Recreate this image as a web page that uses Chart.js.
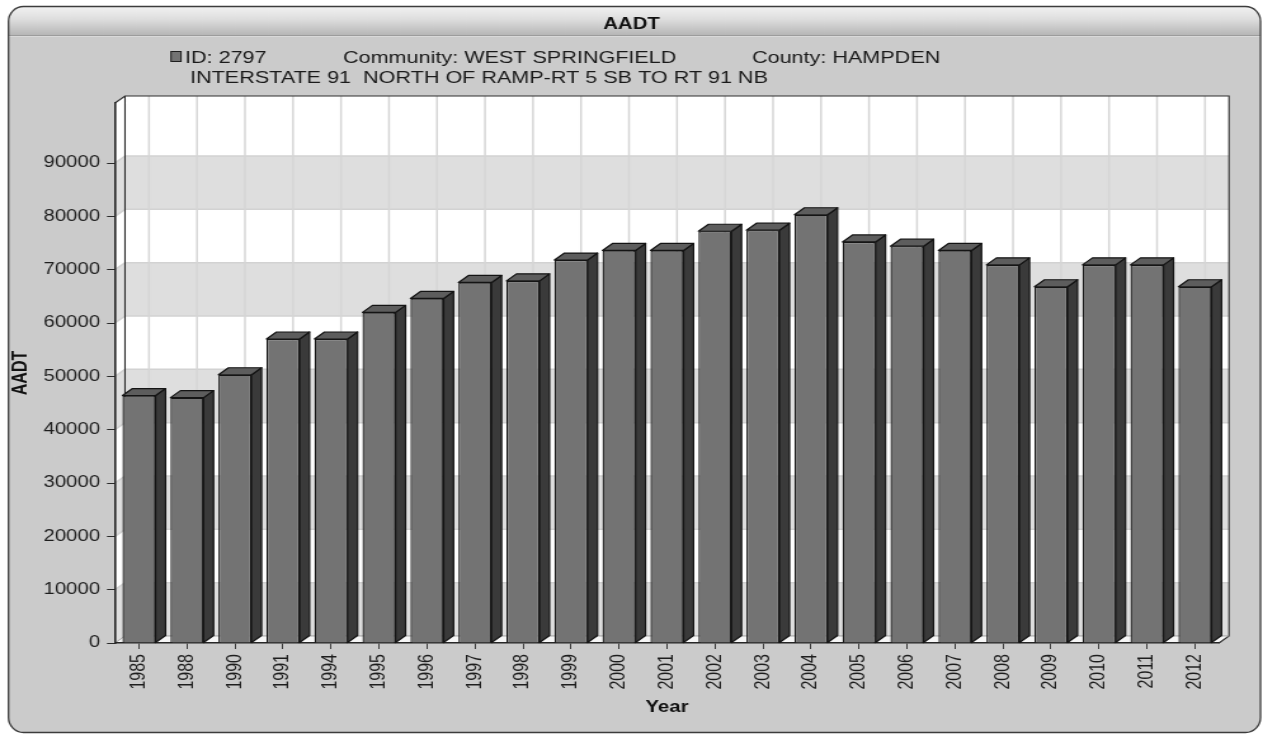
<!DOCTYPE html>
<html>
<head>
<meta charset="utf-8">
<script src="https://cdn.jsdelivr.net/npm/chart.js@4.4.1/dist/chart.umd.min.js"></script>
<style>
  html, body { margin: 0; padding: 0; background: #ffffff; overflow: hidden; }
</style>
</head>
<body>
<canvas id="aadtChart" width="995" height="734" style="width:1263px;height:734px;display:block"></canvas>
<script>
// ---- data ----
const years = ['1985', '1988', '1990', '1991', '1994', '1995', '1996', '1997', '1998', '1999', '2000', '2001',
               '2002', '2003', '2004', '2005', '2006', '2007', '2008', '2009', '2010', '2011', '2012'];
const aadtValues = [46400, 46000, 50300, 57000, 57000, 62000, 64600, 67600, 67900, 71800, 73600, 73600,
                    77200, 77400, 80300, 75200, 74400, 73600, 70900, 66800, 70900, 70900, 66800];
const yTickValues = [0, 10000, 20000, 30000, 40000, 50000, 60000, 70000, 80000, 90000];
const chartTitle = 'AADT';
const legendLine1 = ['ID: 2797', 'Community: WEST SPRINGFIELD', 'County: HAMPDEN'];
const legendLine2 = 'INTERSTATE 91  NORTH OF RAMP-RT 5 SB TO RT 91 NB';
const xAxisTitle = 'Year';
const yAxisTitle = 'AADT';

// ---- layout ----
// The canvas is drawn 995 px wide and shown 1263 px wide, so x positions
// below are given in shown pixels and divided by SX.
const SX = 1263 / 995;
const px = v => v / SX;
const FONT = "'Liberation Sans', Arial, sans-serif";
const DX = px(10);   // depth of the 3D box, horizontal
const DY = 7;        // depth of the 3D box, vertical

function panelPath(ctx, x0, y0, x1, y1, rx, ry) {
  ctx.beginPath();
  ctx.moveTo(x0 + rx, y0);
  ctx.lineTo(x1 - rx, y0);
  ctx.ellipse(x1 - rx, y0 + ry, rx, ry, 0, -Math.PI / 2, 0);
  ctx.lineTo(x1, y1 - ry);
  ctx.ellipse(x1 - rx, y1 - ry, rx, ry, 0, 0, Math.PI / 2);
  ctx.lineTo(x0 + rx, y1);
  ctx.ellipse(x0 + rx, y1 - ry, rx, ry, 0, Math.PI / 2, Math.PI);
  ctx.lineTo(x0, y0 + ry);
  ctx.ellipse(x0 + rx, y0 + ry, rx, ry, 0, Math.PI, Math.PI * 1.5);
  ctx.closePath();
}

function poly(ctx, pts) {
  ctx.beginPath();
  ctx.moveTo(pts[0][0], pts[0][1]);
  for (let i = 1; i < pts.length; i++) ctx.lineTo(pts[i][0], pts[i][1]);
  ctx.closePath();
}

// Panel, title bar, legend, and the back wall / side wall / floor of the box
const framePlugin = {
  id: 'frame',
  beforeDraw(chart) {
    const ctx = chart.ctx;
    const W = chart.width, H = chart.height;
    ctx.save();
    ctx.fillStyle = '#ffffff';
    ctx.fillRect(0, 0, W, H);

    const x0 = px(8.5), x1 = px(1260.5), y0 = 6.5, y1 = 732.5;
    panelPath(ctx, x0, y0, x1, y1, px(15), 15);
    ctx.fillStyle = '#cbcbcb';
    ctx.fill();

    // title bar
    ctx.save();
    panelPath(ctx, x0, y0, x1, y1, px(15), 15);
    ctx.clip();
    const g = ctx.createLinearGradient(0, 6, 0, 35);
    g.addColorStop(0, '#f3f3f3');
    g.addColorStop(0.45, '#dedede');
    g.addColorStop(1, '#b6b6b6');
    ctx.fillStyle = g;
    ctx.fillRect(0, 6, W, 29);
    ctx.fillStyle = '#9c9c9c';
    ctx.fillRect(0, 35, W, 1);
    ctx.fillStyle = '#d9d9d9';
    ctx.fillRect(0, 36, W, 1);
    ctx.restore();

    panelPath(ctx, x0, y0, x1, y1, px(15), 15);
    ctx.strokeStyle = '#3c3c3c';
    ctx.lineWidth = 1.3;
    ctx.stroke();

    ctx.fillStyle = '#111111';
    ctx.font = 'bold 16px ' + FONT;
    ctx.textAlign = 'center';
    ctx.textBaseline = 'alphabetic';
    ctx.fillText(chartTitle, W / 2, 29);

    // legend
    ctx.fillStyle = '#737373';
    ctx.fillRect(px(171), 51.5, px(10), 10);
    ctx.strokeStyle = '#1e1e1e';
    ctx.lineWidth = 1;
    ctx.strokeRect(px(171), 51.5, px(10), 10);
    ctx.fillStyle = '#1a1a1a';
    ctx.font = '17px ' + FONT;
    ctx.textAlign = 'left';
    const line1X = [185, 343, 752];
    legendLine1.forEach((t, i) => ctx.fillText(t, px(line1X[i]), 63));
    ctx.fillText(legendLine2, px(190), 83);

    // 3D box behind the bars
    const {left: L, right: R, top: T, bottom: B} = chart.chartArea;
    const ys = chart.scales.y, xs = chart.scales.x;
    const bl = L + DX, br = R + DX, bt = T - DY, bb = B - DY;

    ctx.fillStyle = '#ffffff';
    ctx.fillRect(bl, bt, br - bl, bb - bt);
    poly(ctx, [[L, T], [bl, bt], [bl, bb], [L, B]]);
    ctx.fill();

    ctx.fillStyle = '#dedede';
    for (let i = 0; i + 1 < yTickValues.length; i += 2) {
      const ya = ys.getPixelForValue(yTickValues[i]);
      const yb = ys.getPixelForValue(yTickValues[i + 1]);
      ctx.fillRect(bl, yb - DY, br - bl, ya - yb);
      poly(ctx, [[L, ya], [bl, ya - DY], [bl, yb - DY], [L, yb]]);
      ctx.fill();
    }

    ctx.strokeStyle = '#d2d2d2';
    ctx.lineWidth = 1.5;
    yTickValues.forEach(v => {
      const y = ys.getPixelForValue(v);
      ctx.beginPath();
      ctx.moveTo(L, y);
      ctx.lineTo(bl, y - DY);
      ctx.lineTo(br, y - DY);
      ctx.stroke();
    });
    ctx.strokeStyle = '#d6d6d6';
    ctx.lineWidth = 1.5;
    years.forEach((_, i) => {
      const x = xs.getPixelForTick(i) + DX;
      ctx.beginPath();
      ctx.moveTo(x, bt);
      ctx.lineTo(x, bb);
      ctx.stroke();
    });

    // floor
    poly(ctx, [[L, B], [bl, bb], [br, bb], [R, B]]);
    ctx.fillStyle = '#f6f6f6';
    ctx.fill();

    // box outline
    ctx.strokeStyle = '#2e2e2e';
    ctx.lineWidth = 1.1;
    ctx.beginPath();
    ctx.moveTo(L, T); ctx.lineTo(bl, bt); ctx.lineTo(br, bt); ctx.lineTo(br, bb); ctx.lineTo(R, B);
    ctx.moveTo(bl, bt); ctx.lineTo(bl, bb);
    ctx.stroke();
    ctx.strokeStyle = '#9a9a9a';
    ctx.lineWidth = 0.8;
    ctx.beginPath();
    ctx.moveTo(bl, bb); ctx.lineTo(br, bb);
    ctx.moveTo(L, B); ctx.lineTo(bl, bb);
    ctx.stroke();
    ctx.restore();
  }
};

// Top and side faces of each bar, built from the bar elements' own geometry
const barDepthPlugin = {
  id: 'barDepth',
  afterDatasetsDraw(chart) {
    const ctx = chart.ctx;
    const meta = chart.getDatasetMeta(0);
    ctx.save();
    ctx.lineJoin = 'round';
    meta.data.forEach(bar => {
      const {x, y, base, width} = bar.getProps(['x', 'y', 'base', 'width'], true);
      const l = x - width / 2, r = x + width / 2;
      // side face
      poly(ctx, [[r, y], [r + DX, y - DY], [r + DX, base - DY], [r, base]]);
      ctx.fillStyle = '#3a3a3a';
      ctx.fill();
      ctx.strokeStyle = '#141414';
      ctx.lineWidth = 1.2;
      ctx.stroke();
      // top face
      poly(ctx, [[l, y], [l + DX, y - DY], [r + DX, y - DY], [r, y]]);
      ctx.fillStyle = '#5d5d5d';
      ctx.fill();
      ctx.stroke();
    });
    ctx.restore();
  }
};

new Chart(document.getElementById('aadtChart'), {
  type: 'bar',
  data: {
    labels: years,
    datasets: [{
      label: legendLine1.join('  '),
      data: aadtValues,
      backgroundColor: '#737373',
      borderColor: '#161616',
      borderWidth: 1.3,
      barPercentage: 0.69,
      categoryPercentage: 1.0
    }]
  },
  options: {
    responsive: false,
    animation: false,
    devicePixelRatio: 1,
    layout: { padding: { left: 6.9, right: 995 - px(1219), top: 103, bottom: 16.4 } },
    plugins: {
      legend: { display: false },
      tooltip: { enabled: false },
      title: { display: false }
    },
    scales: {
      x: {
        offset: true,
        afterFit: s => { s.height = 74.6; },
        grid: { drawOnChartArea: false, drawTicks: true, tickLength: 6, color: '#2a2a2a', lineWidth: 0.9, offset: false },
        border: { display: true, color: '#262626', width: 1.6 },
        ticks: {
          autoSkip: false, minRotation: 90, maxRotation: 90, padding: 5,
          color: '#1e1e1e', font: { family: FONT, size: 16 }
        },
        title: {
          display: true, text: xAxisTitle, color: '#111111', padding: 0,
          font: { family: FONT, size: 16, weight: 'bold' }
        }
      },
      y: {
        min: 0,
        max: 101250,
        afterBuildTicks: s => { s.ticks = yTickValues.map(v => ({ value: v })); },
        afterFit: s => { s.width = px(115) - 6.9; },
        grid: { drawOnChartArea: false, drawTicks: true, tickLength: px(8), color: '#2a2a2a', lineWidth: 1 },
        border: { display: true, color: '#262626', width: 1.6 },
        ticks: {
          padding: px(7), color: '#1e1e1e', font: { family: FONT, size: 16 },
          callback: v => String(v)
        },
        title: {
          display: true, text: yAxisTitle, color: '#111111', padding: 0,
          font: { family: FONT, size: 16, weight: 'bold' }
        }
      }
    }
  },
  plugins: [framePlugin, barDepthPlugin]
});
</script>
</body>
</html>
